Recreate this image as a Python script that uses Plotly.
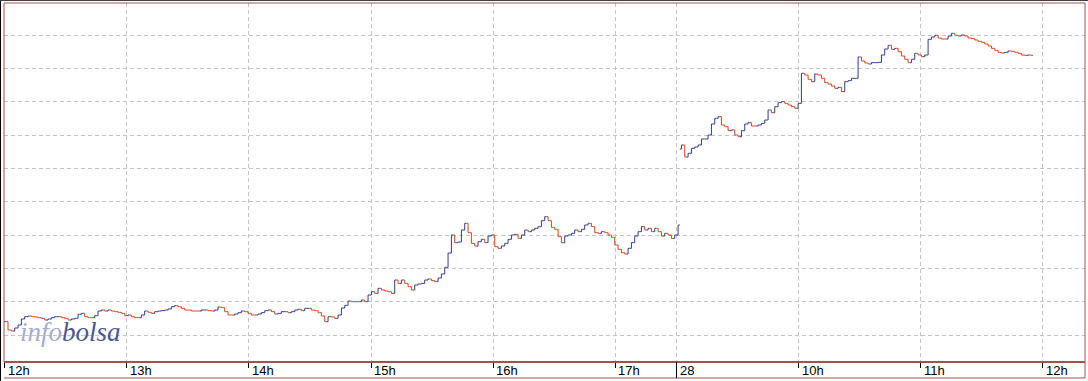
import plotly.graph_objects as go

# ---- data ----
BAR_MIN = 1.6375          # bar interval in trading minutes
DAY1_CLOSE = [
    20.040, 20.015, 20.012, 20.021, 20.030, 20.048, 20.055, 20.057, 20.055, 20.054,
    20.052, 20.050, 20.045, 20.048, 20.052, 20.055, 20.055, 20.052, 20.050, 20.045,
    20.048, 20.050, 20.062, 20.065, 20.055, 20.052, 20.052, 20.058, 20.072, 20.075,
    20.072, 20.075, 20.072, 20.070, 20.068, 20.065, 20.058, 20.060, 20.055, 20.052,
    20.052, 20.060, 20.072, 20.068, 20.065, 20.070, 20.072, 20.073, 20.075, 20.078,
    20.085, 20.088, 20.085, 20.080, 20.075, 20.075, 20.072, 20.072, 20.072, 20.075,
    20.075, 20.073, 20.072, 20.075, 20.084, 20.082, 20.070, 20.060, 20.060, 20.063,
    20.067, 20.072, 20.070, 20.065, 20.060, 20.060, 20.063, 20.067, 20.073, 20.075,
    20.070, 20.063, 20.065, 20.070, 20.070, 20.067, 20.070, 20.075, 20.077, 20.073,
    20.080, 20.080, 20.075, 20.073, 20.067, 20.057, 20.040, 20.055, 20.054, 20.050,
    20.060, 20.081, 20.089, 20.102, 20.100, 20.100, 20.100, 20.105, 20.100, 20.120,
    20.130, 20.125, 20.140, 20.135, 20.132, 20.130, 20.125, 20.165, 20.155, 20.165,
    20.155, 20.145, 20.135, 20.150, 20.153, 20.155, 20.165, 20.168, 20.163, 20.160,
    20.171, 20.183, 20.203, 20.246, 20.300, 20.277, 20.279, 20.315, 20.335, 20.307,
    20.275, 20.267, 20.280, 20.287, 20.277, 20.297, 20.300, 20.265, 20.260, 20.267,
    20.275, 20.287, 20.300, 20.302, 20.290, 20.300, 20.315, 20.310, 20.315, 20.320,
    20.325, 20.343, 20.355, 20.343, 20.323, 20.317, 20.295, 20.277, 20.297, 20.300,
    20.305, 20.315, 20.310, 20.317, 20.330, 20.335, 20.325, 20.307, 20.305, 20.310,
    20.307, 20.300, 20.293, 20.270, 20.257, 20.247, 20.243, 20.260, 20.277, 20.297,
    20.310, 20.325, 20.315, 20.320, 20.310, 20.320, 20.310, 20.297, 20.305, 20.300,
    20.290, 20.300, 20.330,
]
DAY2_OPEN = 20.558
DAY2_CLOSE = [
    20.570, 20.534, 20.545, 20.560, 20.564, 20.570, 20.588, 20.588, 20.600, 20.633,
    20.650, 20.655, 20.630, 20.625, 20.613, 20.615, 20.600, 20.595, 20.613, 20.633,
    20.637, 20.627, 20.627, 20.630, 20.635, 20.645, 20.675, 20.667, 20.685, 20.697,
    20.700, 20.695, 20.690, 20.685, 20.680, 20.695, 20.785, 20.780, 20.767, 20.760,
    20.783, 20.780, 20.770, 20.757, 20.753, 20.747, 20.740, 20.743, 20.730, 20.760,
    20.763, 20.770, 20.770, 20.834, 20.822, 20.816, 20.813, 20.817, 20.817, 20.818,
    20.840, 20.858, 20.869, 20.857, 20.860, 20.850, 20.837, 20.827, 20.817, 20.827,
    20.845, 20.840, 20.835, 20.840, 20.887, 20.894, 20.899, 20.891, 20.888, 20.888,
    20.897, 20.905, 20.899, 20.897, 20.900, 20.897, 20.891, 20.889, 20.885, 20.881,
    20.878, 20.873, 20.867, 20.860, 20.854, 20.848, 20.846, 20.848, 20.852, 20.851,
    20.848, 20.845, 20.840, 20.839, 20.840, 20.839,
]
TICK_MIN = [0, 60, 120, 180, 240, 300, 330, 390, 450, 510]
TICK_TEXT = ["12h", "13h", "14h", "15h", "16h", "17h", "28", "10h", "11h", "12h"]
DAY_BREAK_MIN = 330

# ---- derived OHLC ----
closes = DAY1_CLOSE + DAY2_CLOSE
opens = [DAY1_CLOSE[0]] + DAY1_CLOSE[:-1] + [DAY2_OPEN] + DAY2_CLOSE[:-1]
highs = [max(o, c) for o, c in zip(opens, closes)]
lows = [min(o, c) for o, c in zip(opens, closes)]
xs = [i * BAR_MIN for i in range(len(closes))]

BLUE = "#313b8c"
ORANGE = "#d4461a"
FRAME = "#a05252"
GRID = "#c4c4c4"

fig = go.Figure(go.Ohlc(
    x=xs, open=opens, high=highs, low=lows, close=closes,
    increasing=dict(line=dict(color=BLUE, width=1)),
    decreasing=dict(line=dict(color=ORANGE, width=1)),
    tickwidth=0.5, hoverinfo="skip",
))

STRIP = -16 / 359  # paper y of the bottom of the label strip

fig.update_layout(
    width=1088, height=381,
    margin=dict(l=4, r=3, t=3, b=19, autoexpand=False),
    paper_bgcolor="white", plot_bgcolor="white",
    showlegend=False,
    xaxis=dict(
        range=[-0.34, 530.66], tickvals=TICK_MIN, showticklabels=False,
        ticks="outside", ticklen=5, tickcolor="black", tickwidth=1,
        showgrid=True, gridcolor=GRID, griddash="4px,3px", gridwidth=1,
        zeroline=False, showline=False, rangeslider=dict(visible=False),
    ),
    yaxis=dict(
        range=[19.919, 20.996], tick0=20, dtick=0.1, showticklabels=False,
        showgrid=True, gridcolor=GRID, griddash="4px,3px", gridwidth=1,
        zeroline=False, showline=False, ticks="",
    ),
)

shapes = [
    dict(type="rect", xref="paper", yref="paper", x0=0, x1=1, y0=0, y1=1,
         line=dict(color=FRAME, width=1)),
    dict(type="line", xref="paper", yref="paper", x0=0, x1=1, y0=0, y1=0,
         line=dict(color=FRAME, width=2)),
    dict(type="line", xref="paper", yref="paper", x0=0, x1=1, y0=STRIP, y1=STRIP,
         line=dict(color=FRAME, width=1)),
    dict(type="line", xref="paper", yref="paper", x0=1, x1=1, y0=STRIP, y1=0,
         line=dict(color=FRAME, width=1)),
    dict(type="line", xref="x", yref="paper", x0=DAY_BREAK_MIN, x1=DAY_BREAK_MIN,
         y0=STRIP, y1=0, line=dict(color="black", width=1)),
    dict(type="line", xref="paper", yref="paper", x0=-3.5 / 1081, x1=-3.5 / 1081,
         y0=-19 / 359, y1=1 + 3 / 359, line=dict(color="black", width=1)),
    dict(type="line", xref="paper", yref="paper", x0=-4 / 1081, x1=1 + 3 / 1081,
         y0=1 + 2.5 / 359, y1=1 + 2.5 / 359, line=dict(color="#404040", width=1)),
]
fig.update_layout(shapes=shapes)

annotations = []
for tv, tt in zip(TICK_MIN, TICK_TEXT):
    annotations.append(dict(
        x=tv, xref="x", y=STRIP / 2, yref="paper", text=tt, showarrow=False,
        xanchor="left", yanchor="middle", xshift=1,
        font=dict(family="Liberation Sans, Arial, sans-serif", size=13, color="black"),
    ))
annotations.append(dict(
    x=14 / 1081, xref="paper", y=30 / 359, yref="paper", showarrow=False,
    xanchor="left", yanchor="middle",
    text="<i><span style='color:#a5acd0'>info</span><span style='color:#4b578f'>bolsa</span></i>",
    font=dict(family="Liberation Serif, Times New Roman, serif", size=27),
))
fig.update_layout(annotations=annotations)

fig.write_html(
    "out.html",
    config={"displayModeBar": False},
    post_script="document.body.style.margin='0';document.body.style.overflow='hidden';",
)
